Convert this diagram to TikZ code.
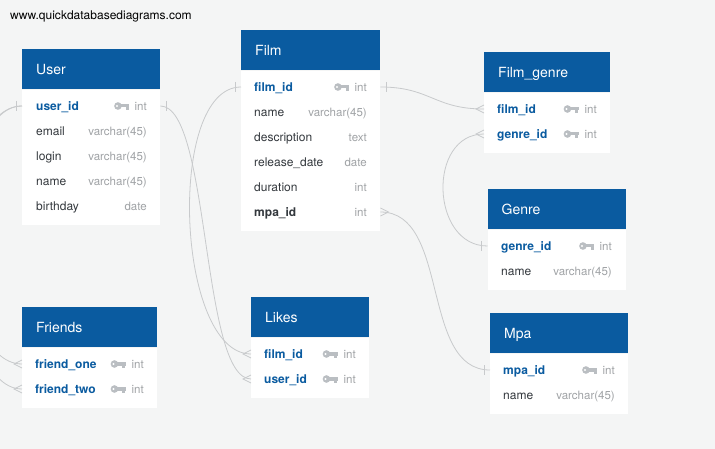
\documentclass[tikz,border=0pt]{standalone}
\usepackage{fontspec}
\setmainfont{TeX Gyre Heros}
\definecolor{bgcol}{RGB}{244,245,245}
\definecolor{hdblue}{RGB}{10,91,160}
\definecolor{fldcol}{RGB}{51,56,61}
\definecolor{typcol}{RGB}{160,163,166}
\definecolor{keycol}{RGB}{186,190,194}
\definecolor{relcol}{RGB}{200,202,204}

\newcommand{\onemark}[2]{\draw[rel] #1 ++({6*#2},-5) -- ++(0,10);}
\newcommand{\crowfoot}[2]{\draw[rel] #1 ++(0,-4) -- ++({8*#2},4) -- ++({-8*#2},4);}

\tikzset{
  head/.style={anchor=north west, fill=hdblue, text=white, minimum height=40pt,
    inner xsep=14pt, inner ysep=0pt, font=\fontsize{14}{16}\selectfont,
    text height=10pt, text depth=0pt},
  body/.style={anchor=north west, fill=white, inner sep=0pt},
  fld/.style={anchor=west, inner sep=0pt, text=fldcol, font=\fontsize{12}{14}\selectfont,
    text height=8.6pt, text depth=0pt},
  pk/.style={fld, text=hdblue, font=\fontsize{12}{14}\selectfont\bfseries},
  fk/.style={fld, font=\fontsize{12}{14}\selectfont\bfseries},
  typ/.style={anchor=east, inner sep=0pt, text=typcol, font=\fontsize{11.5}{14}\selectfont,
    text height=8.6pt, text depth=0pt},
  rel/.style={draw=relcol, line width=0.8pt},
  pics/dbkey/.style={code={
    \fill[keycol] (-11.5,0) circle (3.8);
    \fill[white] (-12.4,0) circle (1.1);
    \fill[keycol] (-9,-1.8) rectangle (0,1.5);
    \fill[keycol] (-3.6,1.5) rectangle (-0.6,3.6);
  }}
}

\begin{document}
\begin{tikzpicture}[x=1pt,y=-1pt]
  \clip (0,0) rectangle (715,449);
  \fill[bgcol] (0,0) rectangle (715,449);
  \node[anchor=west, inner sep=0pt, font=\fontsize{12}{14}\selectfont] (url) at (10,16)
    {www.quickdatabasediagrams.com};

  % User
  \node[head, text width=110pt] (user-h) at (22,49) {User};
  \node[body, minimum width=138pt, minimum height=135pt] (user) at (user-h.south west) {};
  \foreach \st/\fd/\ty [count=\i] in {pk/user\_id/int, fld/email/{varchar(45)},
      fld/login/{varchar(45)}, fld/name/{varchar(45)}, fld/birthday/date} {
    \node[\st] (user-\i) at (36,{81+25*\i}) {\fd};
    \node[typ] (user-t\i) at (147,{81+25*\i}) {\ty};
  }
  \pic at ([xshift=-5pt]user-t1.west) {dbkey};

  % Film
  \node[head, text width=111pt] (film-h) at (241,30) {Film};
  \node[body, minimum width=139pt, minimum height=160pt] (film) at (film-h.south west) {};
  \foreach \st/\fd/\ty [count=\i] in {pk/film\_id/int, fld/name/{varchar(45)},
      fld/description/text, fld/release\_date/date, fld/duration/int, fk/mpa\_id/int} {
    \node[\st] (film-\i) at (254,{62+25*\i}) {\fd};
    \node[typ] (film-t\i) at (367,{62+25*\i}) {\ty};
  }
  \pic at ([xshift=-5pt]film-t1.west) {dbkey};

  % Film_genre
  \node[head, text width=98pt] (fgenre-h) at (484,52) {Film\_genre};
  \node[body, minimum width=126pt, minimum height=60pt] (fgenre) at (fgenre-h.south west) {};
  \foreach \st/\fd/\ty [count=\i] in {pk/film\_id/int, pk/genre\_id/int} {
    \node[\st] (fgenre-\i) at (497,{84+25*\i}) {\fd};
    \node[typ] (fgenre-t\i) at (597,{84+25*\i}) {\ty};
    \pic at ([xshift=-5.5pt]fgenre-t\i.west) {dbkey};
  }

  % Genre
  \node[head, text width=110pt] (genre-h) at (487.5,189) {Genre};
  \node[body, minimum width=138pt, minimum height=60pt] (genre) at (genre-h.south west) {};
  \foreach \st/\fd/\ty [count=\i] in {pk/genre\_id/int, fld/name/{varchar(45)}} {
    \node[\st] (genre-\i) at (501,{221+25*\i}) {\fd};
    \node[typ] (genre-t\i) at (612,{221+25*\i}) {\ty};
  }
  \pic at ([xshift=-5pt]genre-t1.west) {dbkey};

  % Friends
  \node[head, text width=107pt] (friends-h) at (22,307) {Friends};
  \node[body, minimum width=135pt, minimum height=60pt] (friends) at (friends-h.south west) {};
  \foreach \st/\fd/\ty [count=\i] in {pk/friend\_one/int, pk/friend\_two/int} {
    \node[\st] (friends-\i) at (35,{339+25*\i}) {\fd};
    \node[typ] (friends-t\i) at (144,{339+25*\i}) {\ty};
    \pic at ([xshift=-5.5pt]friends-t\i.west) {dbkey};
  }

  % Likes
  \node[head, text width=90pt] (likes-h) at (251,297) {Likes};
  \node[body, minimum width=118pt, minimum height=60pt] (likes) at (likes-h.south west) {};
  \foreach \st/\fd/\ty [count=\i] in {pk/film\_id/int, pk/user\_id/int} {
    \node[\st] (likes-\i) at (264,{329+25*\i}) {\fd};
    \node[typ] (likes-t\i) at (356,{329+25*\i}) {\ty};
    \pic at ([xshift=-5.5pt]likes-t\i.west) {dbkey};
  }

  % Mpa
  \node[head, text width=110pt] (mpa-h) at (490,313) {Mpa};
  \node[body, minimum width=138pt, minimum height=60pt] (mpa) at (mpa-h.south west) {};
  \foreach \st/\fd/\ty [count=\i] in {pk/mpa\_id/int, fld/name/{varchar(45)}} {
    \node[\st] (mpa-\i) at (503,{345+25*\i}) {\fd};
    \node[typ] (mpa-t\i) at (615,{345+25*\i}) {\ty};
  }
  \pic at ([xshift=-5pt]mpa-t1.west) {dbkey};

  % relations
  \draw[rel] (user.west |- user-1) .. controls +(-75,0) and +(-75,0) .. (friends.west |- friends-1);
  \draw[rel] (user.west |- user-1) .. controls +(-75,0) and +(-75,0) .. (friends.west |- friends-2);
  \onemark{(user.west |- user-1)}{-1}
  \crowfoot{(friends.west |- friends-1)}{-1}
  \crowfoot{(friends.west |- friends-2)}{-1}

  \draw[rel] (user.east |- user-1) .. controls +(50,0) and +(-50,0) .. (likes.west |- likes-2);
  \onemark{(user.east |- user-1)}{1}
  \crowfoot{(likes.west |- likes-2)}{-1}

  \draw[rel] (film.west |- film-1) .. controls +(-75,0) and +(-75,0) .. (likes.west |- likes-1);
  \onemark{(film.west |- film-1)}{-1}
  \crowfoot{(likes.west |- likes-1)}{-1}

  \draw[rel] (film.east |- film-1) .. controls +(50,0) and +(-50,0) .. (fgenre.west |- fgenre-1);
  \onemark{(film.east |- film-1)}{1}
  \crowfoot{(fgenre.west |- fgenre-1)}{-1}

  \draw[rel] (genre.west |- genre-1) .. controls +(-57,0) and +(-57,0) .. (fgenre.west |- fgenre-2);
  \onemark{(genre.west |- genre-1)}{-1}
  \crowfoot{(fgenre.west |- fgenre-2)}{-1}

  \draw[rel] (film.east |- film-6) .. controls +(70,0) and +(-70,0) .. (mpa.west |- mpa-1);
  \crowfoot{(film.east |- film-6)}{1}
  \onemark{(mpa.west |- mpa-1)}{-1}
\end{tikzpicture}
\end{document}
